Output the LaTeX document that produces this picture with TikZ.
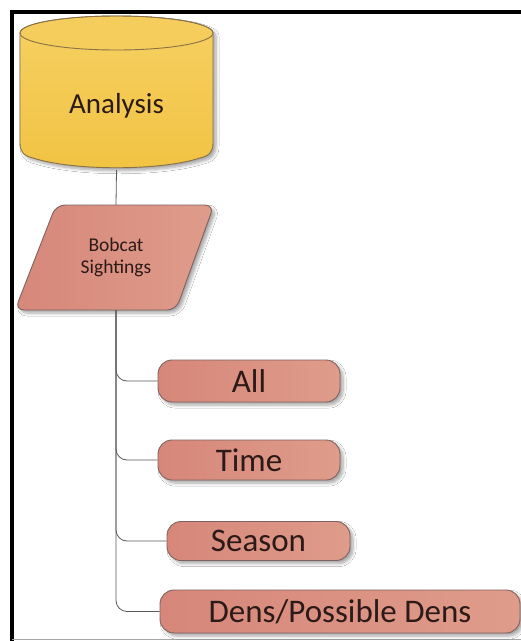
\documentclass[tikz,border=0pt]{standalone}
\usepackage{fontspec}
\setmainfont{Carlito}
\usetikzlibrary{shadows.blur}

\definecolor{boxL}{HTML}{D6877A}
\definecolor{boxR}{HTML}{DF9C8A}
\definecolor{boxEdge}{HTML}{7E6260}
\definecolor{cylTop}{HTML}{F6D062}
\definecolor{cylBot}{HTML}{F1C343}
\definecolor{cylFace}{HTML}{F5CD5C}
\definecolor{cylEdge}{HTML}{8A7148}
\definecolor{ink}{HTML}{2C1A18}
\definecolor{wire}{HTML}{5A5A5A}

\tikzset{
  softshadow/.style={blur shadow={shadow xshift=3pt, shadow yshift=-3pt,
      shadow blur steps=6, shadow blur radius=3pt, shadow opacity=35}},
  salmonfill/.style={left color=boxL, right color=boxR, draw=boxEdge, line width=0.9pt},
  itembox/.style={salmonfill, softshadow, rounded corners=14pt, inner sep=0pt,
      text=ink, font=\fontsize{33}{36}\selectfont},
  wirestyle/.style={draw=wire, line width=0.8pt},
  branch/.style={wirestyle, rounded corners=11pt},
}

\begin{document}
\begin{tikzpicture}[x=1pt,y=1pt]
\useasboundingbox (0,0) rectangle (521,-641);
\fill[white] (0,0) rectangle (521,-641);

% page frame
\draw[black, line width=3.6pt] (10,-11.8) -- (521,-11.8);
\draw[black, line width=4pt] (12,-10) -- (12,-641);
\draw[gray!70, line width=1.5pt] (12,-639.5) -- (521,-639.5);

% database cylinder
\path[softshadow, top color=cylTop, bottom color=cylBot, draw=cylEdge, line width=0.9pt]
  (20,-33) arc[start angle=180, end angle=0, x radius=96.5, y radius=17]
  -- (213,-143) .. controls (213,-152) and (209,-156) .. (200,-158)
  .. controls (160,-171) and (73,-171) .. (33,-158)
  .. controls (24,-156) and (20,-152) .. (20,-143)
  -- cycle;
\fill[cylFace] (116.5,-33) ellipse[x radius=96, y radius=16.5];
\draw[cylEdge, line width=0.9pt]
  (20,-33) arc[start angle=180, end angle=0, x radius=96.5, y radius=17];
\draw[cylEdge, line width=0.9pt]
  (20,-33) arc[start angle=180, end angle=360, x radius=96.5, y radius=17];
\node[minimum width=193pt, minimum height=154pt, inner sep=0pt] (ana) at (116.5,-93) {};
\node[text=ink, font=\fontsize{29}{32}\selectfont] (analbl) at (116.5,-106) {Analysis};

% data parallelogram
\path[salmonfill, softshadow, rounded corners=9pt]
  (56,-205) -- (214,-205) -- (176,-310) -- (15,-310) -- cycle;
\node[minimum width=100pt, minimum height=105pt, inner sep=0pt, align=center,
      text=ink, font=\fontsize{19.5}{22}\selectfont] (sight) at (116,-257.5)
  {Bobcat\\Sightings};

% sub items
\node[itembox, minimum width=182pt, minimum height=42pt] (all)    at (249,-381)   {All};
\node[itembox, minimum width=182pt, minimum height=40pt] (time)   at (249,-460)   {Time};
\node[itembox, minimum width=183pt, minimum height=39pt] (season) at (258.5,-541) {Season};
\node[itembox, minimum width=360pt, minimum height=43pt] (dens)   at (340,-611.5) {Dens/Possible Dens};

% connectors
\draw[wirestyle] (ana.south) -- (sight.north);
\draw[branch] (sight.south) |- (all.west);
\draw[branch] (sight.south) |- (time.west);
\draw[branch] (sight.south) |- (season.west);
\draw[branch] (sight.south) |- (dens.west);
\end{tikzpicture}
\end{document}
